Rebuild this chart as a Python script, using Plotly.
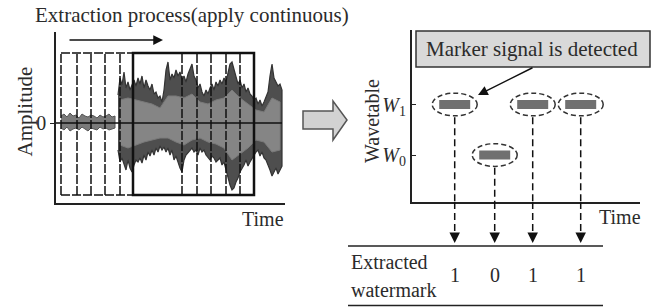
import plotly.graph_objects as go

W, H = 654, 307
FONT = "Liberation Serif"
TXT = "#2b2b2b"

# ---------------- data ----------------
title_text = "Extraction process(apply continuous)"

# quiet part of the received signal (before the watermarked section)
quiet_time = list(range(5, 62, 3))
quiet_upper = [7, 9, 6, 10, 7, 8, 5, 9, 7, 6, 8, 7, 5, 8, 6, 7, 9, 6, 7]
quiet_lower = [-5, -7, -4, -8, -6, -5, -7, -4, -6, -8, -5, -6, -7, -4, -6, -5, -7, -6, -5]

# loud part: envelope of the signal (peaks)
loud_time = list(range(62, 228, 2))
loud_upper = [28, 45, 38, 51, 35, 41, 33, 39, 43, 37,
              45, 39, 47, 35, 43, 37, 33, 39, 29, 31,
              25, 27, 21, 33, 53, 61, 43, 49, 45, 53,
              47, 51, 43, 47, 41, 49, 55, 59, 47, 43,
              35, 39, 31, 27, 33, 29, 35, 39, 33, 41,
              37, 43, 39, 45, 41, 51, 59, 61, 53, 47,
              39, 43, 35, 39, 31, 35, 29, 27, 23, 25,
              19, 23, 17, 21, 27, 31, 47, 59, 45, 41,
              37, 39, 33]
loud_lower = [-27, -39, -35, -42, -47, -37, -45, -49, -42, -37,
              -39, -35, -40, -32, -37, -29, -33, -27, -32, -25,
              -29, -23, -27, -24, -29, -25, -32, -27, -37, -33,
              -39, -45, -49, -37, -32, -29, -27, -25, -29, -27,
              -32, -25, -29, -27, -32, -35, -37, -33, -35, -39,
              -37, -35, -42, -39, -47, -55, -62, -67, -65, -59,
              -55, -49, -45, -42, -37, -43, -39, -35, -32, -29,
              -27, -33, -29, -35, -37, -42, -47, -53, -49, -45,
              -51, -47, -43]

# denser inner core of the signal
core_time = list(range(64, 225, 8))
core_upper = [23, 25, 23, 21, 19, 15, 27, 27, 25, 29, 21, 19, 23, 25, 33, 25, 19, 13, 11, 25, 21]
core_lower = [-22, -25, -22, -19, -17, -15, -15, -19, -22, -17, -15, -19, -21, -25, -37, -31,
              -25, -17, -19, -29, -27]

# sliding extraction windows
window_edges = [5, 21, 35, 49, 64, 77]
detect_window = [77, 198]
frame_lines = [126, 141, 155, 170, 184]
window_amp = [-72, 70]

# wavetable detection result
detect_time = [43, 83, 121, 169]
detect_level = [1, 0, 1, 1]
level_vals = [0, 1]
level_labels = ["<i>W</i><sub>0</sub>", "<i>W</i><sub>1</sub>"]

# ---------------- helpers ----------------
def px(x):
    return x / W

def py(y):
    return 1 - y / H

fig = go.Figure()

# quiet part
fig.add_trace(go.Scatter(
    x=quiet_time + quiet_time[::-1], y=quiet_upper + quiet_lower[::-1],
    fill="toself", fillcolor="#7a7a7a", mode="lines",
    line=dict(color="#555555", width=1), xaxis="x", yaxis="y", hoverinfo="skip"))
# loud part outer envelope
fig.add_trace(go.Scatter(
    x=loud_time + loud_time[::-1], y=loud_upper + loud_lower[::-1],
    fill="toself", fillcolor="#4e4e4e", mode="lines",
    line=dict(color="#333333", width=1.2), xaxis="x", yaxis="y", hoverinfo="skip"))
# waveform core
fig.add_trace(go.Scatter(
    x=core_time + core_time[::-1], y=core_upper + core_lower[::-1],
    fill="toself", fillcolor="#858585", mode="lines",
    line=dict(color="#7a7a7a", width=1), xaxis="x", yaxis="y", hoverinfo="skip"))

# detected bars on the wavetable plot
bx, by = [], []
for t, v in zip(detect_time, detect_level):
    bx += [t - 15.5, t + 15.5, None]
    by += [v, v, None]
fig.add_trace(go.Scatter(x=bx, y=by, mode="lines", line=dict(color="#707070", width=9),
                         xaxis="x2", yaxis="y2", hoverinfo="skip"))

shapes = []
DASH_W = "9px,2px"
# dashed windows
for e in window_edges:
    shapes.append(dict(type="line", xref="x", yref="y", x0=e, x1=e, y0=window_amp[0], y1=window_amp[1],
                       line=dict(color="#111", width=1.5, dash=DASH_W)))
for a in window_amp:
    shapes.append(dict(type="line", xref="x", yref="y", x0=window_edges[0], x1=window_edges[-1], y0=a, y1=a,
                       line=dict(color="#111", width=1.5, dash=DASH_W)))
for e in frame_lines:
    shapes.append(dict(type="line", xref="x", yref="y", x0=e, x1=e, y0=window_amp[0], y1=window_amp[1],
                       line=dict(color="#111", width=1.5, dash=DASH_W)))
# detection window (bold)
shapes.append(dict(type="rect", xref="x", yref="y", x0=detect_window[0], x1=detect_window[1],
                   y0=window_amp[0], y1=window_amp[1], line=dict(color="#111", width=2.5)))
# zero line
shapes.append(dict(type="line", xref="x", yref="y", x0=0, x1=226, y0=0, y1=0,
                   line=dict(color="#111", width=1.5)))

# ellipses and dashed drop lines
for t, v in zip(detect_time, detect_level):
    shapes.append(dict(type="circle", xref="x2", yref="y2", x0=t - 22.5, x1=t + 22.5,
                       y0=v - 0.225, y1=v + 0.225, line=dict(color="#333", width=1.5, dash="5px,3px")))
    shapes.append(dict(type="line", xref="x2", yref="y2", x0=t, x1=t, y0=v - 0.25, y1=-0.93,
                       line=dict(color="#111", width=1.5, dash="7px,4px")))
    shapes.append(dict(type="line", xref="x2", yref="paper", x0=t, x1=t, y0=py(202), y1=py(234),
                       line=dict(color="#111", width=1.5, dash="7px,4px")))

# marker callout box
shapes.append(dict(type="rect", xref="paper", yref="paper", x0=px(416), x1=px(650), y0=py(31), y1=py(67),
                   fillcolor="#d9d9d9", line=dict(color="#333", width=1.5), layer="below"))

# block arrow
pts = [(303, 111), (333, 111), (333, 101), (347, 120), (333, 140), (333, 129), (303, 129)]
path = "M " + " L ".join(f"{px(x):.5f},{py(y):.5f}" for x, y in pts) + " Z"
shapes.append(dict(type="path", xref="paper", yref="paper", path=path,
                   fillcolor="#d2d2d2", line=dict(color="#555", width=1.5)))

# table lines
for yy in (246, 305.5):
    shapes.append(dict(type="line", xref="paper", yref="paper", x0=px(348), x1=px(603), y0=py(yy), y1=py(yy),
                       line=dict(color="#222", width=1.5)))

ann = []
def text(x, y, s, size=20, xanchor="center", angle=0):
    ann.append(dict(x=px(x), y=py(y), xref="paper", yref="paper", text=s, showarrow=False,
                    xanchor=xanchor, yanchor="middle", textangle=angle,
                    font=dict(family=FONT, size=size, color=TXT)))

text(33, 15, title_text, size=21, xanchor="left")
text(24.5, 112, "Amplitude", size=21, angle=-90)
text(263, 219, "Time")
text(372, 121, "Wavetable", angle=-90)
text(620, 217, "Time")
text(531.5, 49.5, "Marker signal is detected", size=21)
text(349, 262, "Extracted", xanchor="left")
text(349, 290, "watermark", xanchor="left")

# result digits
for t, v in zip(detect_time, detect_level):
    ann.append(dict(x=t, y=py(275), xref="x2", yref="paper", text=str(v), showarrow=False,
                    yanchor="middle", font=dict(family=FONT, size=20, color=TXT)))
    ann.append(dict(x=t, y=py(243), xref="x2", yref="paper", text="", showarrow=True,
                    ax=0, ay=-10, arrowhead=2, arrowsize=1.4, arrowwidth=1.5, arrowcolor="#111"))

# arrows
ann.append(dict(x=px(163), y=py(40), xref="paper", yref="paper", text="", showarrow=True,
                ax=-95, ay=0, arrowhead=2, arrowsize=1.3, arrowwidth=1.5, arrowcolor="#111"))
ann.append(dict(x=px(478), y=py(95), xref="paper", yref="paper", text="", showarrow=True,
                ax=56, ay=-28, arrowhead=2, arrowsize=1.3, arrowwidth=1.5, arrowcolor="#111"))

axis_common = dict(showgrid=False, zeroline=False, showline=True, linecolor="#222", linewidth=1.5,
                   fixedrange=True)
fig.update_layout(
    width=W, height=H, margin=dict(l=0, r=0, t=0, b=0),
    paper_bgcolor="white", plot_bgcolor="rgba(0,0,0,0)", showlegend=False, hovermode=False,
    xaxis=dict(domain=[px(56), px(285)], range=[0, 229], showticklabels=False, ticks="",
               anchor="y", **axis_common),
    yaxis=dict(domain=[py(203), py(32)], range=[-80, 91], tickvals=[0], ticktext=["0"],
               ticks="outside", ticklen=4, tickcolor="#222", anchor="x",
               tickfont=dict(family=FONT, size=20, color=TXT), **axis_common),
    xaxis2=dict(domain=[px(411.7), px(640)], range=[0, 228.3], showticklabels=False, ticks="",
                anchor="y2", **axis_common),
    yaxis2=dict(domain=[py(202), py(30)], range=[-0.93, 2.475], tickvals=level_vals, ticktext=level_labels,
                ticks="inside", ticklen=5, tickcolor="#222", anchor="x2",
                tickfont=dict(family=FONT, size=20, color=TXT), **axis_common),
    shapes=shapes, annotations=ann,
)

fig.write_html("out.html", config={"displayModeBar": False},
               post_script="document.body.style.margin='0';document.body.style.overflow='hidden';")
